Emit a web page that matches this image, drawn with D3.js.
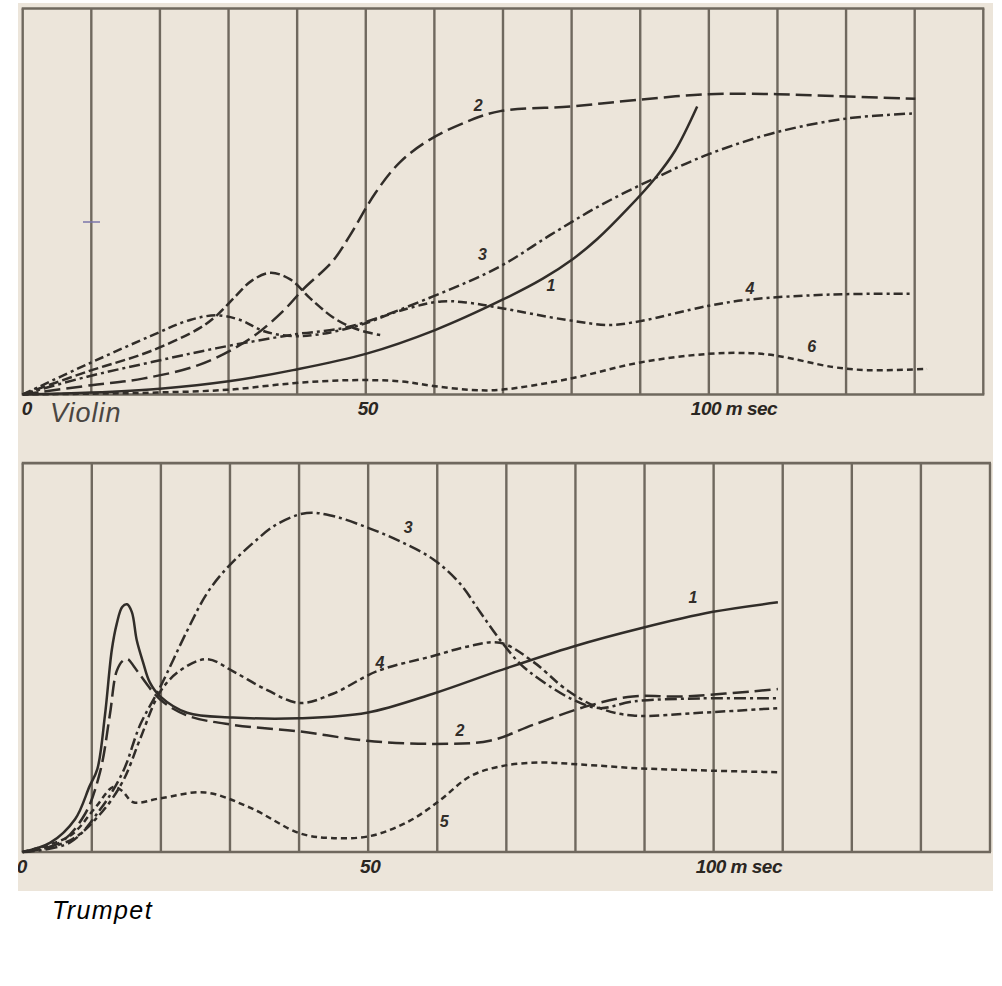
<!DOCTYPE html>
<html><head><meta charset="utf-8">
<script src="https://cdn.jsdelivr.net/npm/d3@7"></script>
<style>
html,body{margin:0;padding:0;background:#fff;}
svg{display:block;}
</style></head>
<body>
<script>
// ---------- DATA (time in ms, amplitude in relative units 0..100) ----------
const xTicks = [0, 50, 100];
const gridTimes = [0,10,20,30,40,50,60,70,80,90,100,110,120,130,140];

// Violin
const violin1 = [[0,0],[10,0.5],[20,1.5],[30,3.4],[39.4,6.3],[50,10.5],[60,16.6],[70,24.6],[75.8,30],[80.2,35.1],[83.7,40.2],[88.1,48],[92.2,56.1],[95.1,63.2],[98.3,74.6]];
const violin2 = [[0,0],[10,2.4],[17.5,4.1],[25.9,7.8],[33.1,14.4],[38,21.7],[40.9,27.3],[45.2,34.6],[47.7,41.2],[51.4,52.2],[55,60.2],[59.4,66.1],[65.2,71],[69.6,73.4],[79.8,74.6],[89.5,76.3],[99.9,77.8],[110,77.8],[118.3,77.3],[130.1,76.6]];
const violin3 = [[0,0],[9.4,4.6],[18.6,8.3],[28.3,12],[39.4,15.5],[47.7,17.6],[59.8,25.4],[69.6,33.2],[76.8,41.2],[84.2,49],[92.2,56.1],[99.9,62.2],[110,68],[120.6,71.6],[129.8,72.8]];
const violin4 = [[0,0],[9.4,7.8],[18.6,15.1],[24.4,19.3],[28.3,20.5],[31.7,19.3],[35.3,16.3],[39.4,15.1],[43.3,15.6],[49.2,18],[55,21.7],[61,24.1],[65.2,23.7],[69.6,22.4],[79.3,19.3],[85.6,18],[90,19],[99.8,22.9],[106,24.6],[118.1,25.9],[129.8,26.1]];
const violin5 = [[0,0],[9.4,5.9],[18.6,11.2],[25.9,17.3],[28.3,20.5],[31,25.4],[33.4,29.5],[36.1,31.5],[39,29.8],[41.9,24.9],[45.2,20],[47.7,17.6],[50.2,16.1],[52.1,15.4]];
const violin6 = [[0,0],[10,0.2],[19.6,0.5],[29.8,1.2],[39.4,2.9],[47.7,3.7],[55,3.4],[59.8,2.2],[65.2,1.2],[69.6,1.2],[79.8,4.1],[90,8.3],[99.8,10.5],[106,10.7],[110,10],[118.1,7.1],[123.1,6.3],[131.8,6.6]];
const violinLabels = [["2",66.4,74.5],["3",67,35.8],["1",77,28],["4",106,27],["6",115,12.2]];

// Trumpet
const trumpet1 = [[0,0],[4,2.4],[7.6,8.5],[9.7,17],[10.8,21.3],[11.9,35.1],[12.9,52],[13.6,58.6],[14.4,63],[15.1,63.7],[15.8,61.7],[16.5,54.5],[17.4,48.9],[18.4,43.6],[19.9,40],[23.8,35.8],[30.4,34.6],[40.1,34.4],[49.8,35.8],[59.4,40.7],[69.1,46.7],[79.6,52.8],[89.6,57.6],[99.7,61.7],[109.3,64.2]];
const trumpet2 = [[0,0],[5.4,2.4],[9,9.7],[11.2,20.6],[12.6,35.1],[13.6,46.5],[14.5,49.2],[15.2,49.6],[16.1,47.7],[17,45.5],[19.9,39.2],[23.8,35.1],[30.4,32.7],[40.1,31],[49.8,28.6],[59.4,27.8],[67.6,28.6],[73.9,32.7],[81.7,37.5],[88.3,40],[95.6,40],[109.3,41.9]];
const trumpet3 = [[0,0],[6.8,2.4],[11.2,10.9],[14.5,20.6],[17,32.7],[19.9,42.4],[23.8,56.9],[26.7,66.6],[29.6,73.1],[33.3,79.4],[36.8,84.3],[41.1,87.2],[44.9,86.4],[49.8,83.5],[54.6,79.9],[59.4,75.3],[63.3,69],[66.2,61.7],[69.1,54.5],[72,48.4],[74.9,44.3],[79.6,39.2],[83.5,37],[88.3,38.7],[98,39.5],[109.3,39.5]];
const trumpet4 = [[0,0],[6.8,2.9],[11.2,9.7],[14.5,18.2],[17,29.1],[19.9,41.2],[22.8,46.7],[26.7,49.6],[30.4,46.5],[35.4,41.6],[40.1,38.3],[44.9,40.7],[51.3,46.5],[59.4,50.4],[64.3,52.8],[69.1,53.8],[73.9,48.9],[78.8,41.6],[83.5,37],[88.3,35.1],[98,35.8],[109.3,37]];
const trumpet5 = [[0,0],[6.8,4.1],[10.5,11.4],[13.1,16.7],[14.4,15.7],[16,12.8],[19.9,13.8],[26.4,15.3],[32.9,11.4],[40.1,4.8],[44.5,3.6],[50.3,4.1],[56,8],[60.4,13.3],[64.7,19.4],[69.1,22],[74.9,23],[80.7,22.5],[89.4,21.5],[98,21],[109.3,20.5]];
const trumpetLabels = [["3",55.8,83],["1",97,65],["4",51.7,48.5],["2",63.3,31],["5",61,7.6]];

// ---------- DRAWING ----------
const W = 1002, H = 986;
const K = 0.9414;   // vertical scale of the page
const svg = d3.select("body").append("svg").attr("width", W).attr("height", H);

const paper = "#ece5da", gridCol = "#6f685e", ink = "#312d29";

svg.append("rect").attr("x",18).attr("y",3).attr("width",975).attr("height",888).attr("fill",paper);

const panels = [
  {name:"Violin", series:[violin1,violin2,violin3,violin4,violin5,violin6],
   dashes:[null,"16,6","11,4,3,4","9,4,3,4","10,4","6,4"], labels:violinLabels,
   x:d3.scaleLinear().domain([0,140]).range([22.7,983.3]),
   y:d3.scaleLinear().domain([0,100]).range([419*K,9*K]), labelY:441*K},
  {name:"Trumpet", series:[trumpet1,trumpet2,trumpet3,trumpet4,trumpet5],
   dashes:[null,"16,6","12,4,3,4","10,4,4,4","6,4"], labels:trumpetLabels,
   x:d3.scaleLinear().domain([0,140]).range([22.7,990]),
   y:d3.scaleLinear().domain([0,100]).range([905*K,492*K]), labelY:927*K}
];

const defs = svg.append("defs");
defs.append("clipPath").attr("id","paperClip").append("rect")
  .attr("x",18).attr("y",0).attr("width",975).attr("height",891);

panels.forEach((p, pi) => {
  const g = svg.append("g");
  const [y0, y1] = p.y.range();
  // vertical grid
  g.selectAll("line.grid").data(gridTimes).join("line")
    .attr("x1", d => p.x(d)).attr("x2", d => p.x(d))
    .attr("y1", y1).attr("y2", y0)
    .attr("stroke", gridCol).attr("stroke-width", 2.4);
  // top & bottom borders
  [y1, y0].forEach(yy => g.append("line")
    .attr("x1", p.x(0) - 1).attr("x2", p.x(140) + 1).attr("y1", yy).attr("y2", yy)
    .attr("stroke", gridCol).attr("stroke-width", 2.6));

  const line = d3.line().x(d => p.x(d[0])).y(d => p.y(d[1])).curve(d3.curveCatmullRom.alpha(0.5));
  p.series.forEach((s, i) => {
    g.append("path").attr("d", line(s)).attr("fill","none")
      .attr("stroke", ink).attr("stroke-width", 2.5)
      .attr("stroke-linecap","butt")
      .attr("stroke-dasharray", p.dashes[i]);
  });
  // curve labels
  g.selectAll("text.lab").data(p.labels).join("text")
    .attr("x", d => p.x(d[1])).attr("y", d => p.y(d[2]))
    .attr("text-anchor","middle").attr("dominant-baseline","middle")
    .attr("font-family","Liberation Sans, Arial, sans-serif").attr("font-weight","bold")
    .attr("font-style","italic").attr("font-size",16).attr("fill", ink)
    .text(d => d[0]);
  // x tick labels
  g.selectAll("text.tick").data(xTicks).join("text")
    .attr("x", d => d === 0 ? (pi === 0 ? p.x(0) + 4 : p.x(0) - 1) : p.x(d) + (d === 100 ? -18 : 2))
    .attr("y", p.labelY)
    .attr("text-anchor", d => d === 100 ? "start" : "middle")
    .attr("clip-path", "url(#paperClip)")
    .attr("font-family","Liberation Sans, Arial, sans-serif").attr("font-weight","bold")
    .attr("font-style","italic").attr("font-size",19).attr("fill","#2a2622")
    .attr("letter-spacing", -0.5)
    .text(d => d === 100 ? "100 m sec" : String(d));
});

// small stray mark in violin panel
svg.append("line").attr("x1",83).attr("x2",100).attr("y1",222).attr("y2",222)
  .attr("stroke","#7b74aa").attr("stroke-width",1.5);

// panel titles
svg.append("text").attr("x",50).attr("y",422)
  .attr("font-family","Liberation Sans, Arial, sans-serif").attr("font-style","italic")
  .attr("font-size",27).attr("fill","#4a4642").attr("letter-spacing",1).text("Violin");
svg.append("text").attr("x",52).attr("y",919)
  .attr("font-family","Liberation Sans, Arial, sans-serif").attr("font-style","italic")
  .attr("font-size",25).attr("fill","#000").attr("letter-spacing",1.4).text("Trumpet");
</script>
</body></html>
